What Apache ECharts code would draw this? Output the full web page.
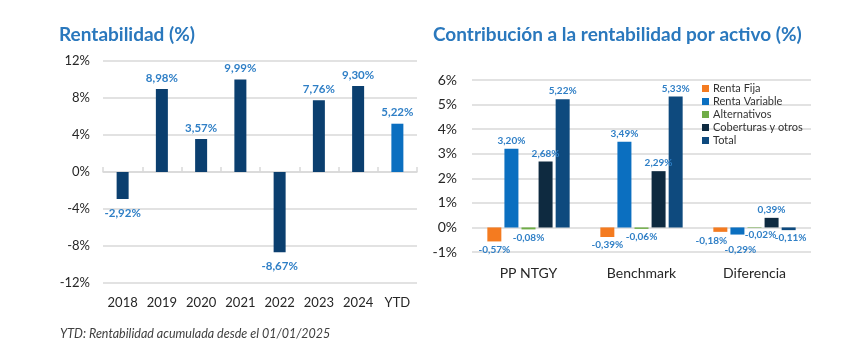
<!DOCTYPE html>
<html>
<head>
<meta charset="utf-8">
<script src="https://cdn.jsdelivr.net/npm/echarts@6/dist/echarts.min.js"></script>
<style>
  html, body { margin: 0; padding: 0; background: #fff; }
  #chart { width: 857px; height: 346px; }
</style>
</head>
<body>
<div id="chart"></div>
<script>
// Annual returns
const years = ['2018', '2019', '2020', '2021', '2022', '2023', '2024', 'YTD'];
const yearReturns = [-2.92, 8.98, 3.57, 9.99, -8.67, 7.76, 9.30, 5.22];

// Contribution by asset class
const groups = ['PP NTGY', 'Benchmark', 'Diferencia'];
const rentaFija = [-0.57, -0.39, -0.18];
const rentaVariable = [3.20, 3.49, -0.29];
const alternativos = [-0.08, -0.06, -0.02];
const coberturas = [2.68, 2.29, 0.39];
const total = [5.22, 5.33, -0.11];

const FONT = 'Lato, "Noto Sans", sans-serif';
const LABEL_BLUE = '#2f7fc6';
const GRID_GREY = '#d9d9d9';

const fmt = v => v.toFixed(2).replace('.', ',') + '%';

// small nudges so crowded labels in the "Diferencia" group stay readable
const labelNudges = {
  'Renta Fija|Diferencia': [-9, 1],
  'Renta Variable|Diferencia': [3, 7],
  'Alternativos|Diferencia': [6, -1],
  'Total|Diferencia': [2, 0]
};

function contributionSeries(name, data, color) {
  return {
    name: name,
    type: 'bar',
    xAxisIndex: 1,
    yAxisIndex: 1,
    data: data.map((v, i) => ({
      value: v,
      label: {
        position: v >= 0 ? 'top' : 'bottom',
        offset: labelNudges[name + '|' + groups[i]] || [0, 0]
      }
    })),
    barWidth: 14,
    barGap: '22%',
    itemStyle: { color: color },
    label: {
      show: true,
      formatter: p => fmt(p.value),
      color: LABEL_BLUE,
      fontFamily: FONT,
      fontSize: 10,
      fontWeight: 'bold',
      distance: 3
    }
  };
}

const chart = echarts.init(document.getElementById('chart'));
chart.setOption({
  animation: false,
  backgroundColor: '#fff',
  title: [
    {
      text: 'Rentabilidad (%)',
      left: 54, top: 20,
      textStyle: { color: '#2a78bd', fontFamily: FONT, fontSize: 19, fontWeight: 'bold' }
    },
    {
      text: 'Contribución a la rentabilidad por activo (%)',
      left: 428, top: 20,
      textStyle: { color: '#2a78bd', fontFamily: FONT, fontSize: 19, fontWeight: 'bold' }
    },
    {
      text: 'YTD: Rentabilidad acumulada desde el 01/01/2025',
      left: 55, top: 322,
      textStyle: { color: '#404040', fontFamily: FONT, fontSize: 12.5, fontStyle: 'italic', fontWeight: 'normal' }
    }
  ],
  legend: {
    orient: 'vertical',
    left: 697, top: 77,
    itemWidth: 7, itemHeight: 7,
    itemGap: 0,
    icon: 'rect',
    textStyle: { fontFamily: FONT, fontSize: 11, lineHeight: 13, color: '#333333', padding: [0, 0, 0, -1] },
    data: ['Renta Fija', 'Renta Variable', 'Alternativos', 'Coberturas y otros', 'Total']
  },
  grid: [
    { left: 103, top: 61, width: 314, height: 222 },
    { left: 472, top: 80, width: 339, height: 172 }
  ],
  xAxis: [
    {
      type: 'category', gridIndex: 0, data: years,
      position: 'bottom',
      axisLine: { onZero: false, show: false },
      axisTick: { show: false },
      axisLabel: { color: '#262626', fontFamily: FONT, fontSize: 13, margin: 13 }
    },
    {
      type: 'category', gridIndex: 1, data: groups,
      axisLine: { onZero: false, show: false },
      axisTick: { show: false },
      axisLabel: { color: '#262626', fontFamily: FONT, fontSize: 14, margin: 14 }
    },
    {
      // zero baseline with category dividers for the annual chart
      type: 'category', gridIndex: 0, data: years,
      axisLine: { onZero: true, show: true, lineStyle: { color: GRID_GREY, width: 1.5 } },
      axisTick: { show: true, length: 5, lineStyle: { color: GRID_GREY, width: 1.5 } },
      axisLabel: { show: false }
    }
  ],
  yAxis: [
    {
      type: 'value', gridIndex: 0, min: -12, max: 12, interval: 4,
      axisLine: { show: false },
      axisTick: { show: false },
      axisLabel: { formatter: v => v + '%', color: '#262626', fontFamily: FONT, fontSize: 13, margin: 13 },
      splitLine: { lineStyle: { color: GRID_GREY, width: 1.5 } }
    },
    {
      type: 'value', gridIndex: 1, min: -1, max: 6, interval: 1,
      axisLine: { show: false },
      axisTick: { show: false },
      axisLabel: { formatter: v => v + '%', color: '#262626', fontFamily: FONT, fontSize: 14, margin: 15 },
      splitLine: { lineStyle: { color: GRID_GREY, width: 1.5 } }
    }
  ],
  series: [
    {
      type: 'bar',
      xAxisIndex: 0, yAxisIndex: 0,
      barWidth: 12,
      z: 3,
      data: yearReturns.map((v, i) => ({
        value: v,
        itemStyle: { color: years[i] === 'YTD' ? '#0b6fc0' : '#0b3f6f' },
        label: { position: v >= 0 ? 'top' : 'bottom', distance: v >= 0 ? 5 : 8 }
      })),
      label: {
        show: true,
        formatter: p => fmt(p.value),
        color: LABEL_BLUE,
        fontFamily: FONT,
        fontSize: 11.5,
        fontWeight: 'bold'
      }
    },
    contributionSeries('Renta Fija', rentaFija, '#f47b20'),
    contributionSeries('Renta Variable', rentaVariable, '#0b6fc0'),
    contributionSeries('Alternativos', alternativos, '#70ad47'),
    contributionSeries('Coberturas y otros', coberturas, '#0e2a40'),
    contributionSeries('Total', total, '#0e4a7e')
  ]
});
</script>
</body>
</html>
